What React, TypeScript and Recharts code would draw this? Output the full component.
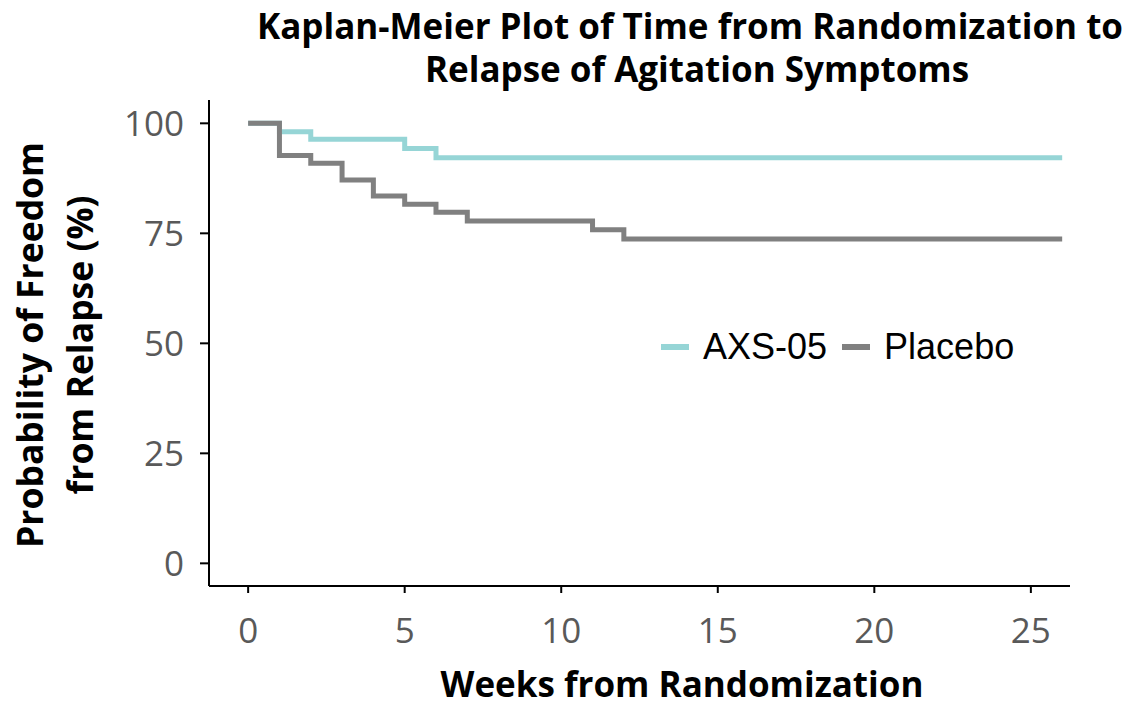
// Kaplan-Meier step plot: AXS-05 vs placebo, time to relapse of agitation.

import { CartesianGrid, Legend, Line, LineChart, XAxis, YAxis } from "recharts";

const axsWeeks = [0, 1, 2, 5, 6, 26];
const axsFree = [100, 98.1, 96.4, 94.3, 92.2, 92.2];

const placeboWeeks = [0, 1, 2, 3, 4, 5, 6, 7, 11, 12, 26];
const placeboFree = [100, 92.7, 90.9, 87.1, 83.5, 81.6, 79.8, 77.8, 75.8, 73.7, 73.7];

const weekTicks = [0, 5, 10, 15, 20, 25];
const pctTicks = [0, 25, 50, 75, 100];

const TEAL = "#96d5d6";
const GREY = "#808080";
const FONT = "'Open Sans', Lato, sans-serif";

function toPoints(weeks: number[], values: number[]) {
  return weeks.map((week, i) => ({ week, value: values[i] }));
}

const axsData = toPoints(axsWeeks, axsFree);
const placeboData = toPoints(placeboWeeks, placeboFree);

/** Legend drawn as swatch + label pairs, Arial-like like the source slide. */
function KmLegend({ payload }: any) {
  return (
    <div style={{ display: "flex", alignItems: "center", fontFamily: "'Liberation Sans', Arial, sans-serif", fontSize: 36, color: "#000" }}>
      {(payload || []).map((item: any) => (
        <div key={item.value} style={{ display: "flex", alignItems: "center", marginRight: 15 }}>
          <span style={{ display: "inline-block", width: 28, height: 6, background: item.color, marginRight: 14 }} />
          <span>{item.value}</span>
        </div>
      ))}
    </div>
  );
}

export default function App() {
  return (
    <div style={{ position: "absolute", left: 0, top: 0, width: 1144, height: 701, background: "#fff" }}>
      <LineChart width={1144} height={701} margin={{ top: 100, right: 74, bottom: 0, left: 0 }}>
        <CartesianGrid stroke="none" />
        <XAxis
          type="number"
          dataKey="week"
          domain={[-1.25, 26.25]}
          ticks={weekTicks}
          allowDataOverflow
          height={115}
          stroke="#000"
          strokeWidth={2}
          tickSize={7}
          tickMargin={25}
          tick={{ fill: "#595959", fontSize: 35, fontFamily: FONT }}
        />
        <YAxis
          type="number"
          dataKey="value"
          domain={[-5.15, 105.3]}
          ticks={pctTicks}
          allowDataOverflow
          width={209}
          stroke="#000"
          strokeWidth={2}
          tickSize={9}
          tickMargin={16}
          tick={{ fill: "#595959", fontSize: 35, fontFamily: FONT }}
        />
        <Line
          data={axsData}
          dataKey="value"
          name="AXS-05"
          type="stepAfter"
          stroke={TEAL}
          strokeWidth={5}
          dot={false}
          isAnimationActive={false}
        />
        <Line
          data={placeboData}
          dataKey="value"
          name="Placebo"
          type="stepAfter"
          stroke={GREY}
          strokeWidth={5}
          dot={false}
          isAnimationActive={false}
        />
        <Legend
          verticalAlign="middle"
          content={<KmLegend />}
          wrapperStyle={{ position: "absolute", left: 661, top: 326, width: "auto" }}
        />
        <text x={690} y={39} textAnchor="middle" fontFamily={FONT} fontWeight={700} fontSize={35}>
          Kaplan-Meier Plot of Time from Randomization to
        </text>
        <text x={697} y={82} textAnchor="middle" fontFamily={FONT} fontWeight={700} fontSize={35}>
          Relapse of Agitation Symptoms
        </text>
        <text x={682} y={697} textAnchor="middle" fontFamily={FONT} fontWeight={700} fontSize={35}>
          Weeks from Randomization
        </text>
        <text
          transform="translate(29,345) rotate(-90)"
          textAnchor="middle"
          dominantBaseline="central"
          fontFamily={FONT}
          fontWeight={700}
          fontSize={35.5}
        >
          Probability of Freedom
        </text>
        <text
          transform="translate(79,345) rotate(-90)"
          textAnchor="middle"
          dominantBaseline="central"
          fontFamily={FONT}
          fontWeight={700}
          fontSize={35.5}
        >
          from Relapse (%)
        </text>
      </LineChart>
    </div>
  );
}
